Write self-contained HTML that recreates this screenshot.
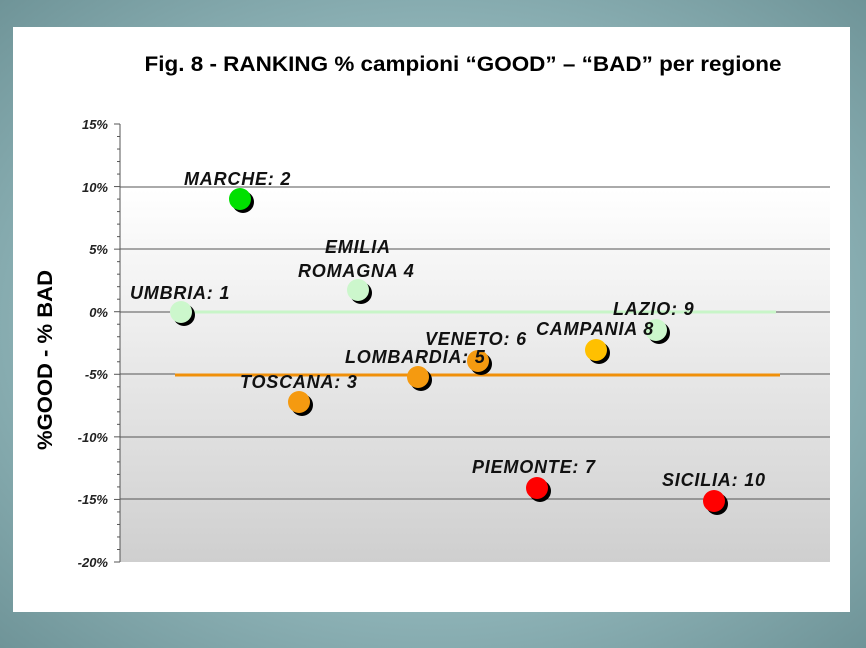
<!DOCTYPE html>
<html><head><style>
html,body{margin:0;padding:0;width:866px;height:648px;overflow:hidden}
body{background:radial-gradient(ellipse at 50% 50%,#b4d2d4 0%,#8fb4b8 60%,#6f9498 100%)}
</style></head><body>
<svg width="866" height="648" viewBox="0 0 866 648" xmlns="http://www.w3.org/2000/svg" font-family="Liberation Sans, sans-serif">
<defs>
<linearGradient id="pg" x1="0" y1="0" x2="0" y2="1">
<stop offset="0" stop-color="#ffffff"/><stop offset="0.15" stop-color="#ffffff"/><stop offset="1" stop-color="#cfcfcf"/>
</linearGradient>
</defs>
<rect x="13" y="27" width="837" height="585" fill="#fff"/>
<rect x="120" y="124" width="710" height="438" fill="url(#pg)"/>
<text x="463" y="71" font-size="21" font-weight="bold" text-anchor="middle" fill="#000" textLength="637" lengthAdjust="spacingAndGlyphs">Fig. 8 - RANKING % campioni “GOOD” – “BAD” per regione</text>
<g stroke="#555" stroke-width="1">
<line x1="120" y1="187" x2="830" y2="187"/>
<line x1="120" y1="249" x2="830" y2="249"/>
<line x1="120" y1="312" x2="830" y2="312"/>
<line x1="120" y1="374" x2="830" y2="374"/>
<line x1="120" y1="437" x2="830" y2="437"/>
<line x1="120" y1="499" x2="830" y2="499"/>
<line x1="120" y1="124" x2="120" y2="562"/>
</g>
<g stroke="#555" stroke-width="1" id="ticks"></g>
<g font-size="13" font-style="italic" font-weight="bold" text-anchor="end" fill="#222">
<text x="108" y="129">15%</text><text x="108" y="192">10%</text><text x="108" y="254">5%</text>
<text x="108" y="317">0%</text><text x="108" y="379">-5%</text><text x="108" y="442">-10%</text>
<text x="108" y="504">-15%</text><text x="108" y="567">-20%</text>
</g>
<text transform="translate(52,360) rotate(-90)" font-size="21" font-weight="bold" text-anchor="middle" textLength="180" lengthAdjust="spacingAndGlyphs">%GOOD - % BAD</text>
<line x1="181" y1="312" x2="776" y2="312" stroke="#c8f5c8" stroke-width="3"/>
<line x1="175" y1="375" x2="780" y2="375" stroke="#f0900a" stroke-width="3"/>
<g>
<circle cx="184" cy="315" r="11" fill="#000"/><circle cx="181" cy="312" r="11" fill="#ccf7cc"/>
<circle cx="243" cy="202" r="11" fill="#000"/><circle cx="240" cy="199" r="11" fill="#00e000"/>
<circle cx="302" cy="405" r="11" fill="#000"/><circle cx="299" cy="402" r="11" fill="#f59a10"/>
<circle cx="361" cy="293" r="11" fill="#000"/><circle cx="358" cy="290" r="11" fill="#ccf7cc"/>
<circle cx="421" cy="380" r="11" fill="#000"/><circle cx="418" cy="377" r="11" fill="#f59a10"/>
<circle cx="481" cy="364" r="11" fill="#000"/><circle cx="478" cy="361" r="11" fill="#f59a10"/>
<circle cx="540" cy="491" r="11" fill="#000"/><circle cx="537" cy="488" r="11" fill="#ff0000"/>
<circle cx="599" cy="353" r="11" fill="#000"/><circle cx="596" cy="350" r="11" fill="#ffc000"/>
<circle cx="659" cy="333" r="11" fill="#000"/><circle cx="656" cy="330" r="11" fill="#ccf7cc"/>
<circle cx="717" cy="504" r="11" fill="#000"/><circle cx="714" cy="501" r="11" fill="#ff0000"/>
</g>
<g font-size="18" font-style="italic" font-weight="bold" fill="#111" letter-spacing="0.8">
<text x="130" y="299">UMBRIA: 1</text>
<text x="184" y="185">MARCHE: 2</text>
<text x="240" y="388">TOSCANA: 3</text>
<text x="325" y="253">EMILIA</text>
<text x="298" y="277">ROMAGNA 4</text>
<text x="345" y="363">LOMBARDIA: 5</text>
<text x="425" y="345">VENETO: 6</text>
<text x="472" y="473">PIEMONTE: 7</text>
<text x="536" y="335">CAMPANIA 8</text>
<text x="613" y="315">LAZIO: 9</text>
<text x="662" y="486">SICILIA: 10</text>
</g>
<script>
var g=document.getElementById('ticks');for(var i=0;i<=35;i++){var y=124+i*438/35;var l=document.createElementNS('http://www.w3.org/2000/svg','line');l.setAttribute('x1',i%5==0?114:117);l.setAttribute('x2',120);l.setAttribute('y1',y);l.setAttribute('y2',y);g.appendChild(l);}
</script>
</svg>
</body></html>
